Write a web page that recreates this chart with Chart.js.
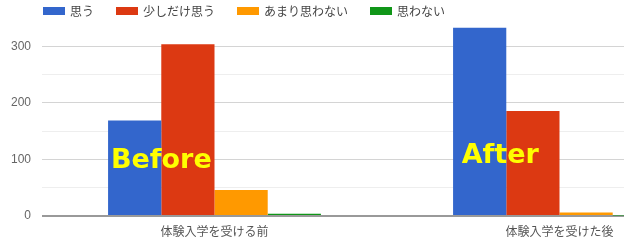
<!DOCTYPE html>
<html>
<head>
<meta charset="utf-8">
<script src="https://cdn.jsdelivr.net/npm/chart.js@4/dist/chart.umd.min.js"></script>
<style>
  html, body { margin: 0; padding: 0; background: #fff; overflow: hidden; width: 624px; height: 245px; }
  #wrap { position: relative; width: 735px; height: 245px; }
</style>
</head>
<body>
<div id="wrap"><canvas id="chart"></canvas></div>
<script>
const categories = ['体験入学を受ける前', '体験入学を受けた後'];
const seriesNames = ['思う', '少しだけ思う', 'あまり思わない', '思わない'];
const omou = [169, 333];
const sukoshi = [304, 186];
const amari = [46, 6];
const omowanai = [4, 1];
const overlayText = ['Before', 'After'];
const yTicks = [0, 100, 200, 300];

const colors = ['#3366cc', '#dc3912', '#ff9900', '#109618'];
const jp = "'Noto Sans CJK JP', 'Noto Sans', sans-serif";

const datasets = [omou, sukoshi, amari, omowanai].map((vals, i) => ({
    label: seriesNames[i],
    data: vals,
    backgroundColor: colors[i],
    borderWidth: 0,
    categoryPercentage: 0.617,
    barPercentage: 1
}));

// legend drawn over the top of the plot, left aligned (google charts style)
const topLegend = {
    id: 'topLegend',
    afterDraw(chart) {
        const ctx = chart.ctx;
        let x = chart.chartArea.left + 1;
        const y = 11;
        ctx.save();
        ctx.font = '12px ' + jp;
        ctx.textBaseline = 'middle';
        chart.data.datasets.forEach((ds, i) => {
            ctx.fillStyle = ds.backgroundColor;
            ctx.fillRect(x, y - 4, 22, 8);
            x += 27;
            ctx.fillStyle = '#444';
            ctx.fillText(ds.label, x, y);
            x += ctx.measureText(ds.label).width + 22;
        });
        ctx.restore();
    }
};

// yellow Before / After captions
const captions = {
    id: 'captions',
    afterDatasetsDraw(chart) {
        const ctx = chart.ctx;
        const y = chart.scales.y;
        const b0 = chart.getDatasetMeta(0).data;
        const b1 = chart.getDatasetMeta(1).data;
        ctx.save();
        ctx.font = "bold 27px 'DejaVu Sans', sans-serif";
        ctx.fillStyle = '#ffff00';
        ctx.textAlign = 'center';
        ctx.textBaseline = 'middle';
        overlayText.forEach((t, i) => {
            const cx = (b0[i].x + b1[i].x) / 2 - (i ? 6 : 0);
            ctx.fillText(t, cx, y.getPixelForValue(i ? 106 : 98));
        });
        ctx.restore();
    }
};

new Chart(document.getElementById('chart'), {
    type: 'bar',
    data: {
        labels: categories,
        datasets: datasets
    },
    options: {
        responsive: true,
        maintainAspectRatio: false,
        animation: false,
        layout: { padding: { top: 5, right: 3, left: 0, bottom: 0 } },
        plugins: {
            legend: { display: false },
            tooltip: { enabled: false }
        },
        scales: {
            x: {
                grid: { display: false, drawTicks: false },
                border: { display: false },
                ticks: {
                    color: '#555',
                    padding: 8,
                    font: { family: jp, size: 12 }
                },
                afterFit(s) { s.height = 29; }
            },
            y: {
                min: 0,
                max: 350,
                border: { display: false },
                grid: {
                    drawTicks: false,
                    color: c => {
                        const v = c.tick.value;
                        if (v === 0) return '#999';
                        if (v === 350) return 'rgba(0,0,0,0)';
                        return v % 100 ? '#eeeeee' : '#d4d4d4';
                    },
                    lineWidth: c => c.tick.value === 0 ? 2 : 1
                },
                ticks: {
                    stepSize: 50,
                    padding: 11,
                    color: '#666',
                    font: { family: "'Liberation Sans', Arial, sans-serif", size: 12 },
                    callback: v => yTicks.includes(v) ? v : ''
                },
                afterFit(s) { s.width = 42; }
            }
        }
    },
    plugins: [topLegend, captions]
});
</script>
</body>
</html>
